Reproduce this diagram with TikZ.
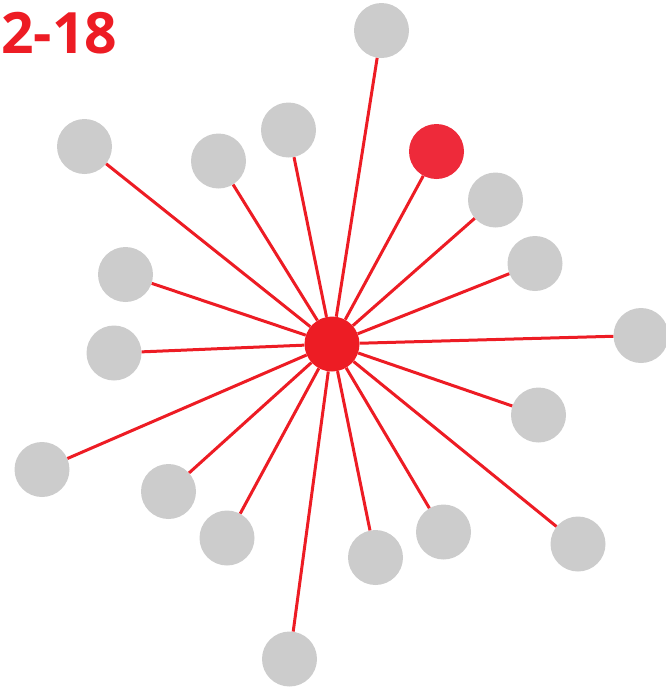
\documentclass[tikz,border=0pt]{standalone}
\usepackage{fontspec}
\setmainfont{Open Sans}
\usetikzlibrary{positioning}
\definecolor{hubred}{HTML}{ED1C24}
\definecolor{leafred}{HTML}{EE2A3A}
\definecolor{leafgray}{HTML}{CCCCCC}

\begin{document}
\begin{tikzpicture}[
  x=1pt, y=-1pt,
  leaf/.style={circle, fill=leafgray, minimum size=55pt, inner sep=0pt},
  hub/.style={circle, fill=hubred, minimum size=55pt, inner sep=0pt},
  spoke/.style={draw=hubred, line width=3pt}
]
  % Frame
  \useasboundingbox (0,0) rectangle (665,689);

  % Title
  \node[anchor=base west, inner sep=0pt, text=hubred, font=\fontsize{57}{57}\selectfont\bfseries]
    (title) at (1,53) {2-18};

  % Hub
  \node[hub] (c) at (332,344) {};

  % Leaves
  \foreach \name/\px/\py in {
      n1/381.5/30.5, n2/84.5/146.5, n3/288.5/130, n4/218.5/161,
      n6/495.5/200, n7/535/263.5, n8/125.5/274.5, n9/114/353,
      n10/641/335.5, n11/538.5/415, n12/42/469.5, n13/168.5/491.5,
      n14/227/538, n15/375.5/557.5, n16/443.5/532, n17/578/544,
      n18/289.5/659}
    \node[leaf] (\name) at (\px,\py) {};
  \node[leaf, fill=leafred] (n5) at (436.5,151.5) {};

  % Spokes
  \foreach \name in {n1,n2,n3,n4,n5,n6,n7,n8,n9,n10,n11,n12,n13,n14,n15,n16,n17,n18}
    \draw[spoke] (c) -- (\name);
\end{tikzpicture}
\end{document}
